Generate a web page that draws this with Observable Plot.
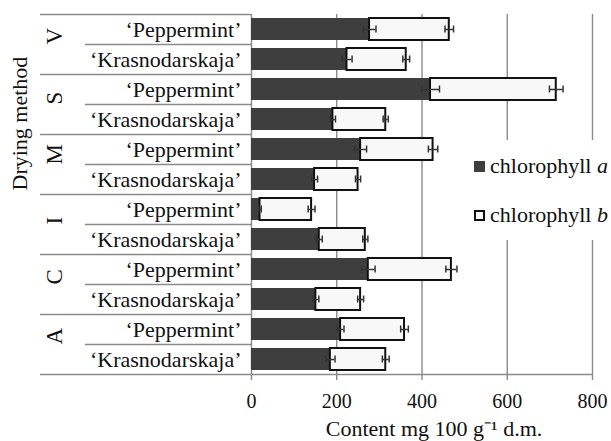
<!DOCTYPE html>
<html>
<head>
<meta charset="utf-8">
<script src="https://cdn.jsdelivr.net/npm/d3@7"></script>
<script src="https://cdn.jsdelivr.net/npm/@observablehq/plot@0.6"></script>
<style>
  body { margin: 0; background: #fff; }
  #wrap { position: relative; width: 611px; height: 441px; font-family: 'Liberation Serif', 'Times New Roman', serif; }
  #legend { position: absolute; left: 466px; top: 140px; width: 145px; height: 100px; background: #fff; color: #111; font-size: 22px; }
  .item { position: absolute; left: 8px; display: flex; align-items: center; white-space: nowrap; }
  .sw { width: 11px; height: 11px; box-sizing: border-box; margin-right: 5px; }
</style>
</head>
<body>
<div id="wrap"></div>
<script>
// ---- data ----
const methods = ["V", "S", "M", "I", "C", "A"];
const cultivars = ["Peppermint", "Krasnodarskaja"];
// order: V-Pep, V-Kras, S-Pep, S-Kras, M-Pep, M-Kras, I-Pep, I-Kras, C-Pep, C-Kras, A-Pep, A-Kras
const chlA = [277, 224, 420, 191, 256, 148, 20, 159, 274, 151, 209, 185];
const chlB = [187, 139, 295, 124, 170, 102, 121, 108, 195, 105, 150, 130];
const errA = [15, 12, 21, 6, 14, 7, 3, 7, 16, 7, 8, 11];
const errB = [10, 8, 16, 6, 11, 6, 8, 6, 13, 7, 9, 8];
const xTicks = [0, 200, 400, 600, 800];
const seriesNames = ["chlorophyll a", "chlorophyll b"];

// ---- table ----
const rows = [];
methods.forEach((m, i) => cultivars.forEach((c, j) => {
  const k = i * 2 + j;
  rows.push({key: m + "|" + c, method: m, cultivar: c, a: chlA[k], b: chlB[k], ea: errA[k], eb: errB[k]});
}));
const keys = rows.map(d => d.key);
const pepKeys = keys.filter(k => k.endsWith("Peppermint"));
const krasKeys = keys.filter(k => k.endsWith("Krasnodarskaja"));
const lastKey = keys[keys.length - 1];

const font = "'Liberation Serif', 'Times New Roman', serif";
const lineCol = "#8a8a8a";

const chart = Plot.plot({
  width: 611,
  height: 441,
  marginLeft: 251,
  marginRight: 19,
  marginTop: 14,
  marginBottom: 67,
  style: {fontFamily: font, fontSize: "20px", color: "#111", background: "#fff"},
  x: {domain: [0, 800], axis: null},
  y: {type: "band", domain: keys, padding: 0, axis: null},
  marks: [
    // gridlines
    Plot.gridX({ticks: xTicks.slice(1), stroke: lineCol, strokeOpacity: 1, strokeWidth: 1.4}),
    Plot.ruleX([0], {stroke: lineCol, strokeWidth: 1.4}),
    Plot.gridY({ticks: [lastKey], dy: 15, stroke: lineCol, strokeOpacity: 1, strokeWidth: 1.4}),
    // bars
    Plot.barX(rows, {y: "key", x1: () => 0, x2: "a", fill: "#3e3e3e", insetTop: 4, insetBottom: 4}),
    Plot.barX(rows, {y: "key", x1: "a", x2: d => d.a + d.b, fill: "#f8f8f8", stroke: "#111", strokeWidth: 2, insetTop: 4, insetBottom: 4}),
    // error bars chlorophyll a
    Plot.ruleY(rows, {y: "key", x1: d => d.a - d.ea, x2: d => d.a + d.ea, stroke: "#333", strokeWidth: 1.5}),
    Plot.tickX(rows, {y: "key", x: d => d.a - d.ea, stroke: "#333", strokeWidth: 1.5, insetTop: 11.5, insetBottom: 11.5}),
    Plot.tickX(rows, {y: "key", x: d => d.a + d.ea, stroke: "#333", strokeWidth: 1.5, insetTop: 11.5, insetBottom: 11.5}),
    // error bars chlorophyll b (at stacked total)
    Plot.ruleY(rows, {y: "key", x1: d => d.a + d.b - d.eb, x2: d => d.a + d.b + d.eb, stroke: "#333", strokeWidth: 1.5}),
    Plot.tickX(rows, {y: "key", x: d => d.a + d.b - d.eb, stroke: "#333", strokeWidth: 1.5, insetTop: 11.5, insetBottom: 11.5}),
    Plot.tickX(rows, {y: "key", x: d => d.a + d.b + d.eb, stroke: "#333", strokeWidth: 1.5, insetTop: 11.5, insetBottom: 11.5}),
    // x axis
    Plot.axisX({ticks: xTicks, tickSize: 6, tickPadding: 13, stroke: lineCol, fill: "#111", fontSize: 20, label: null, strokeWidth: 1.4}),
    Plot.text(["Content mg 100 g\u207B\u00B9 d.m."], {frameAnchor: "bottom", lineAnchor: "middle", dx: 12, dy: 54, fontSize: 22, fill: "#111"}),
    // y axis: cultivar labels
    Plot.axisY({ticks: keys, tickSize: 0, tickPadding: 10, tickFormat: k => "\u2018" + k.split("|")[1] + "\u2019", fontSize: 22, fill: "#111", label: null}),
    // y axis: table separator lines
    Plot.axisY({ticks: pepKeys, tickSize: 211, dy: -15, tickFormat: () => "", stroke: lineCol, strokeWidth: 1.4, label: null}),
    Plot.axisY({ticks: [lastKey], tickSize: 211, dy: 15, tickFormat: () => "", stroke: lineCol, strokeWidth: 1.4, label: null}),
    Plot.axisY({ticks: krasKeys, tickSize: 166, dy: -15, tickFormat: () => "", stroke: lineCol, strokeWidth: 1.4, label: null}),
    // group (drying method) labels, rotated like the reference
    Plot.text(methods, {y: m => m + "|Krasnodarskaja", text: m => m, rotate: -90, frameAnchor: "left", dx: -197, dy: -15, fontSize: 23, fill: "#111"}),
    Plot.text(["Drying method"], {frameAnchor: "left", dx: -232, dy: -4, rotate: -90, fontSize: 22, fill: "#111"})
  ]
});

const wrap = document.getElementById("wrap");
wrap.appendChild(chart);

// legend
const legend = document.createElement("div");
legend.id = "legend";
const swatches = [
  {bg: "#3e3e3e", border: "none", top: 13},
  {bg: "#f8f8f8", border: "2px solid #111", top: 62}
];
seriesNames.forEach((name, i) => {
  const item = document.createElement("div");
  item.className = "item";
  item.style.top = swatches[i].top + "px";
  const sw = document.createElement("span");
  sw.className = "sw";
  sw.style.background = swatches[i].bg;
  sw.style.border = swatches[i].border;
  const parts = name.split(" ");
  const label = document.createElement("span");
  label.innerHTML = parts[0] + " <i>" + parts[1] + "</i>";
  item.appendChild(sw);
  item.appendChild(label);
  legend.appendChild(item);
});
wrap.appendChild(legend);
</script>
</body>
</html>
